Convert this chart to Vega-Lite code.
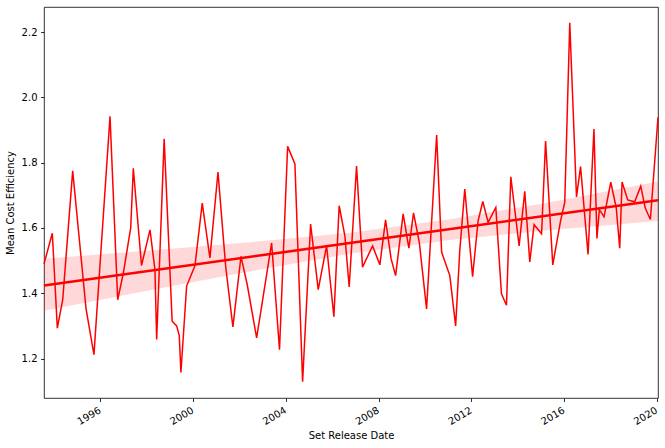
{
  "$schema": "https://vega.github.io/schema/vega-lite/v6.json",
  "description": "Mean cost efficiency of sets over release date, with linear fit and confidence band",
  "width": 614,
  "height": 391,
  "autosize": "none",
  "padding": {"left": 44, "top": 7, "right": 7, "bottom": 50},
  "background": "white",
  "datasets": {
    "series": [
      {"date": "1993-07-28", "v": 1.490}, {"date": "1993-12-06", "v": 1.584}, {"date": "1994-02-23", "v": 1.293},
      {"date": "1994-05-19", "v": 1.380}, {"date": "1994-10-23", "v": 1.775}, {"date": "1995-05-21", "v": 1.353},
      {"date": "1995-09-23", "v": 1.212}, {"date": "1996-06-02", "v": 1.942}, {"date": "1996-10-01", "v": 1.380},
      {"date": "1996-12-29", "v": 1.462}, {"date": "1997-04-24", "v": 1.600}, {"date": "1997-06-04", "v": 1.783},
      {"date": "1997-10-11", "v": 1.485}, {"date": "1998-02-22", "v": 1.594}, {"date": "1998-05-11", "v": 1.472},
      {"date": "1998-06-07", "v": 1.258}, {"date": "1998-10-03", "v": 1.873}, {"date": "1999-02-06", "v": 1.314},
      {"date": "1999-04-18", "v": 1.300}, {"date": "1999-05-29", "v": 1.270}, {"date": "1999-06-24", "v": 1.157},
      {"date": "1999-09-22", "v": 1.422}, {"date": "2000-01-31", "v": 1.484}, {"date": "2000-05-25", "v": 1.676},
      {"date": "2000-09-23", "v": 1.508}, {"date": "2001-01-28", "v": 1.771}, {"date": "2001-05-29", "v": 1.482},
      {"date": "2001-09-20", "v": 1.297}, {"date": "2002-01-25", "v": 1.513}, {"date": "2002-05-04", "v": 1.426},
      {"date": "2002-09-29", "v": 1.263}, {"date": "2003-05-23", "v": 1.554}, {"date": "2003-09-24", "v": 1.227},
      {"date": "2004-01-30", "v": 1.850}, {"date": "2004-05-24", "v": 1.796}, {"date": "2004-09-22", "v": 1.129},
      {"date": "2005-01-26", "v": 1.612}, {"date": "2005-05-26", "v": 1.411}, {"date": "2005-10-05", "v": 1.545},
      {"date": "2006-01-28", "v": 1.328}, {"date": "2006-04-21", "v": 1.668}, {"date": "2006-07-20", "v": 1.576},
      {"date": "2006-09-26", "v": 1.419}, {"date": "2007-01-20", "v": 1.790}, {"date": "2007-04-24", "v": 1.480},
      {"date": "2007-09-30", "v": 1.545}, {"date": "2008-01-22", "v": 1.487}, {"date": "2008-04-21", "v": 1.625},
      {"date": "2008-07-17", "v": 1.506}, {"date": "2008-09-26", "v": 1.454}, {"date": "2009-01-23", "v": 1.643},
      {"date": "2009-04-23", "v": 1.538}, {"date": "2009-07-06", "v": 1.646}, {"date": "2009-10-05", "v": 1.555},
      {"date": "2010-01-27", "v": 1.352}, {"date": "2010-07-05", "v": 1.885}, {"date": "2010-09-21", "v": 1.526},
      {"date": "2011-01-28", "v": 1.454}, {"date": "2011-04-30", "v": 1.300}, {"date": "2011-07-05", "v": 1.533},
      {"date": "2011-09-21", "v": 1.719}, {"date": "2012-01-22", "v": 1.451}, {"date": "2012-04-18", "v": 1.622},
      {"date": "2012-07-01", "v": 1.681}, {"date": "2012-09-23", "v": 1.617}, {"date": "2013-01-22", "v": 1.663},
      {"date": "2013-04-21", "v": 1.398}, {"date": "2013-07-09", "v": 1.363}, {"date": "2013-09-15", "v": 1.757},
      {"date": "2014-01-24", "v": 1.545}, {"date": "2014-04-23", "v": 1.712}, {"date": "2014-07-11", "v": 1.496},
      {"date": "2014-09-17", "v": 1.610}, {"date": "2015-01-13", "v": 1.582}, {"date": "2015-03-17", "v": 1.866},
      {"date": "2015-07-08", "v": 1.487}, {"date": "2015-11-11", "v": 1.625}, {"date": "2016-01-13", "v": 1.678},
      {"date": "2016-04-01", "v": 2.229}, {"date": "2016-07-16", "v": 1.695}, {"date": "2016-09-18", "v": 1.788},
      {"date": "2017-01-14", "v": 1.519}, {"date": "2017-04-17", "v": 1.903}, {"date": "2017-06-03", "v": 1.568},
      {"date": "2017-07-11", "v": 1.656}, {"date": "2017-09-23", "v": 1.634}, {"date": "2018-01-07", "v": 1.740},
      {"date": "2018-04-03", "v": 1.662}, {"date": "2018-05-28", "v": 1.538}, {"date": "2018-07-04", "v": 1.741},
      {"date": "2018-10-01", "v": 1.686}, {"date": "2019-01-19", "v": 1.680}, {"date": "2019-04-24", "v": 1.728},
      {"date": "2019-07-04", "v": 1.661}, {"date": "2019-09-23", "v": 1.626}, {"date": "2020-01-21", "v": 1.939}
    ],
    "ci": [
      {"date": "1993-07-28", "lo": 1.346, "hi": 1.506},
      {"date": "1998-02-22", "lo": 1.409, "hi": 1.531},
      {"date": "2002-11-19", "lo": 1.473, "hi": 1.559},
      {"date": "2006-10-07", "lo": 1.521, "hi": 1.585},
      {"date": "2011-01-28", "lo": 1.563, "hi": 1.627},
      {"date": "2015-03-05", "lo": 1.592, "hi": 1.676},
      {"date": "2020-01-21", "lo": 1.621, "hi": 1.742}
    ]
  },
  "encoding": {
    "x": {
      "field": "date",
      "type": "temporal",
      "title": "Set Release Date",
      "scale": {
        "type": "utc",
        "domain": [
          {"year": 1993, "month": 7, "date": 28, "utc": true},
          {"year": 2020, "month": 1, "date": 21, "utc": true}
        ],
        "nice": false
      },
      "axis": {
        "values": [
          {"year": 1996, "month": 1, "date": 1, "utc": true},
          {"year": 2000, "month": 1, "date": 1, "utc": true},
          {"year": 2004, "month": 1, "date": 1, "utc": true},
          {"year": 2008, "month": 1, "date": 1, "utc": true},
          {"year": 2012, "month": 1, "date": 1, "utc": true},
          {"year": 2016, "month": 1, "date": 1, "utc": true},
          {"year": 2020, "month": 1, "date": 1, "utc": true}
        ],
        "format": "%Y",
        "labelAngle": -30,
        "labelAlign": "right",
        "labelBaseline": "top",
        "labelOffset": -3,
        "titlePadding": 4
      }
    }
  },
  "layer": [
    {
      "data": {"name": "ci"},
      "mark": {"type": "area", "color": "red", "opacity": 0.15},
      "encoding": {
        "y": {
          "field": "lo",
          "type": "quantitative",
          "title": "Mean Cost Efficiency",
          "scale": {"domain": [1.079, 2.277], "nice": false, "zero": false},
          "axis": {"values": [1.2, 1.4, 1.6, 1.8, 2.0, 2.2], "format": ".1f", "titlePadding": 6}
        },
        "y2": {"field": "hi"}
      }
    },
    {
      "data": {"name": "series"},
      "mark": {"type": "line", "color": "red", "strokeWidth": 1.5},
      "encoding": {
        "y": {"field": "v", "type": "quantitative", "title": "Mean Cost Efficiency"}
      }
    },
    {
      "data": {"name": "series"},
      "transform": [{"regression": "v", "on": "date"}],
      "mark": {"type": "line", "color": "red", "strokeWidth": 2.5},
      "encoding": {
        "y": {"field": "v", "type": "quantitative", "title": "Mean Cost Efficiency"}
      }
    }
  ],
  "config": {
    "view": {"stroke": "black", "strokeWidth": 0.8},
    "font": "DejaVu Sans",
    "axis": {
      "grid": false,
      "domain": false,
      "ticks": true,
      "tickSize": 3.5,
      "tickWidth": 0.8,
      "tickColor": "black",
      "labelFont": "DejaVu Sans",
      "labelFontSize": 10,
      "labelColor": "black",
      "labelPadding": 3.5,
      "titleFont": "DejaVu Sans",
      "titleFontSize": 10,
      "titleFontWeight": "normal",
      "titleColor": "black"
    }
  }
}
